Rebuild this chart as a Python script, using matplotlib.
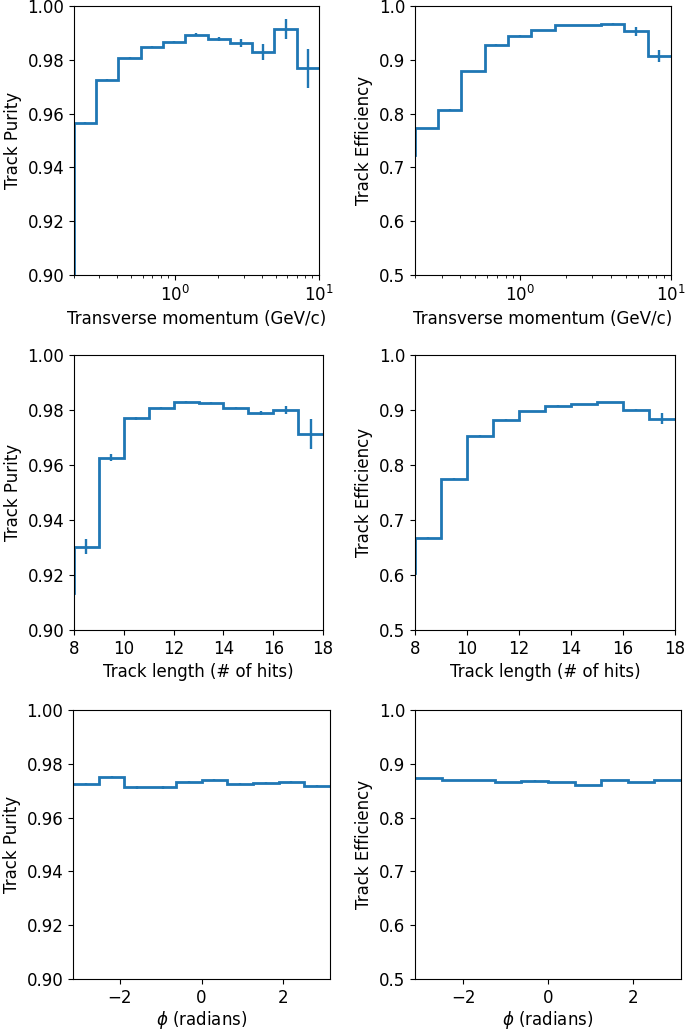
import matplotlib
matplotlib.use('Agg')
import matplotlib.pyplot as plt
import numpy as np

W, H = 685, 1032
DPI = 100
COLOR = '#1f77b4'

# ---- данные ----
# поперечный импульс (GeV/c), края бинов (крайние бины за пределами осей)
pt_edges = [0.14, 0.2, 0.285, 0.407, 0.581, 0.829, 1.184, 1.689, 2.41, 3.44, 4.91, 7.01, 10.0, 14.0]
pt_purity = [0.85, 0.9566, 0.9725, 0.9806, 0.9847, 0.9865, 0.9893, 0.9877, 0.9862, 0.9829, 0.9915, 0.9769, 0.9769]
pt_purity_err = [0.0, 0.0004, 0.0004, 0.0004, 0.0004, 0.0004, 0.0005, 0.0006, 0.0014, 0.0028, 0.0038, 0.0072, 0.0]
pt_eff = [0.723, 0.7727, 0.8075, 0.8783, 0.928, 0.9447, 0.9547, 0.964, 0.9646, 0.9665, 0.953, 0.907, 0.907]
pt_eff_err = [0.0, 0.0008, 0.0008, 0.0008, 0.0008, 0.0008, 0.0008, 0.0008, 0.0008, 0.0015, 0.008, 0.012, 0.0]

# длина трека (# хитов)
len_edges = [7, 8, 9, 10, 11, 12, 13, 14, 15, 16, 17, 18, 19]
len_purity = [0.9136, 0.9303, 0.9627, 0.977, 0.9807, 0.9828, 0.9826, 0.9807, 0.979, 0.980, 0.9714, 0.9714]
len_purity_err = [0.0, 0.0028, 0.0012, 0.0006, 0.0004, 0.0004, 0.0004, 0.0005, 0.0007, 0.0015, 0.0055, 0.0]
len_eff = [0.604, 0.6679, 0.774, 0.8527, 0.8818, 0.8976, 0.9073, 0.9103, 0.914, 0.900, 0.8842, 0.8842]
len_eff_err = [0.0, 0.002, 0.002, 0.001, 0.001, 0.001, 0.001, 0.001, 0.001, 0.002, 0.01, 0.0]

# азимутальный угол phi
phi_edges = [-3.1416, -2.5133, -1.885, -1.2566, -0.6283, 0.0, 0.6283, 1.2566, 1.885, 2.5133, 3.1416]
phi_purity = [0.9724, 0.9750, 0.9712, 0.9712, 0.9733, 0.9740, 0.9724, 0.9730, 0.9732, 0.9716]
phi_purity_err = [0.0004, 0.0004, 0.0004, 0.0004, 0.0004, 0.0004, 0.0004, 0.0004, 0.0004, 0.0004]
phi_eff = [0.8728, 0.870, 0.8697, 0.8666, 0.8685, 0.8666, 0.8598, 0.8697, 0.866, 0.869]
phi_eff_err = [0.0005, 0.0005, 0.0005, 0.0005, 0.0005, 0.0005, 0.0005, 0.0005, 0.0005, 0.0005]

plt.rcParams['font.size'] = 12

fig = plt.figure(figsize=(W / DPI, H / DPI), dpi=DPI)


def add_ax(x0, x1, y0, y1):
    # позиция в пикселях -> доли фигуры
    return fig.add_axes([x0 / W, 1 - y1 / H, (x1 - x0) / W, (y1 - y0) / H])


def draw(ax, edges, vals, errs, xlabel, ylabel, ylim, yticks, fmt, log=False, xpad=4):
    edges = np.array(edges)
    ax.stairs(vals, edges, baseline=None, color=COLOR, lw=2)
    if log:
        centers = np.sqrt(edges[:-1] * edges[1:])
    else:
        centers = 0.5 * (edges[:-1] + edges[1:])
    ax.errorbar(centers, vals, yerr=errs, fmt='none', ecolor=COLOR, elinewidth=1.7)
    if log:
        ax.set_xscale('log')
    ax.set_ylim(*ylim)
    ax.set_yticks(yticks)
    ax.set_yticklabels([fmt % t for t in yticks])
    ax.set_xlabel(xlabel, labelpad=xpad)
    ax.set_ylabel(ylabel)


pur_ticks = [0.90, 0.92, 0.94, 0.96, 0.98, 1.00]
eff_ticks = [0.5, 0.6, 0.7, 0.8, 0.9, 1.0]

# первый ряд: pT
ax = add_ax(74, 319, 6, 275)
draw(ax, pt_edges, pt_purity, pt_purity_err, 'Transverse momentum (GeV/c)', 'Track Purity',
     (0.90, 1.00), pur_ticks, '%.2f', log=True)
ax.set_xlim(0.2, 10)
ax = add_ax(415, 671, 6, 275)
draw(ax, pt_edges, pt_eff, pt_eff_err, 'Transverse momentum (GeV/c)', 'Track Efficiency',
     (0.5, 1.0), eff_ticks, '%.1f', log=True)
ax.set_xlim(0.2, 10)

# второй ряд: длина трека
ax = add_ax(74, 323, 355, 630)
draw(ax, len_edges, len_purity, len_purity_err, 'Track length (# of hits)', 'Track Purity',
     (0.90, 1.00), pur_ticks, '%.2f')
ax.set_xlim(8, 18)
ax.set_xticks([8, 10, 12, 14, 16, 18])
ax = add_ax(415, 675, 355, 630)
draw(ax, len_edges, len_eff, len_eff_err, 'Track length (# of hits)', 'Track Efficiency',
     (0.5, 1.0), eff_ticks, '%.1f')
ax.set_xlim(8, 18)
ax.set_xticks([8, 10, 12, 14, 16, 18])

# третий ряд: phi
ax = add_ax(73, 330, 710, 979)
draw(ax, phi_edges, phi_purity, phi_purity_err, r'$\phi$ (radians)', 'Track Purity',
     (0.90, 1.00), pur_ticks, '%.2f', xpad=1.5)
ax.set_xlim(-np.pi, np.pi)
ax.set_xticks([-2, 0, 2])
ax = add_ax(415, 681, 710, 979)
draw(ax, phi_edges, phi_eff, phi_eff_err, r'$\phi$ (radians)', 'Track Efficiency',
     (0.5, 1.0), eff_ticks, '%.1f', xpad=1.5)
ax.set_xlim(-np.pi, np.pi)
ax.set_xticks([-2, 0, 2])

fig.savefig('out.png', dpi=DPI)
